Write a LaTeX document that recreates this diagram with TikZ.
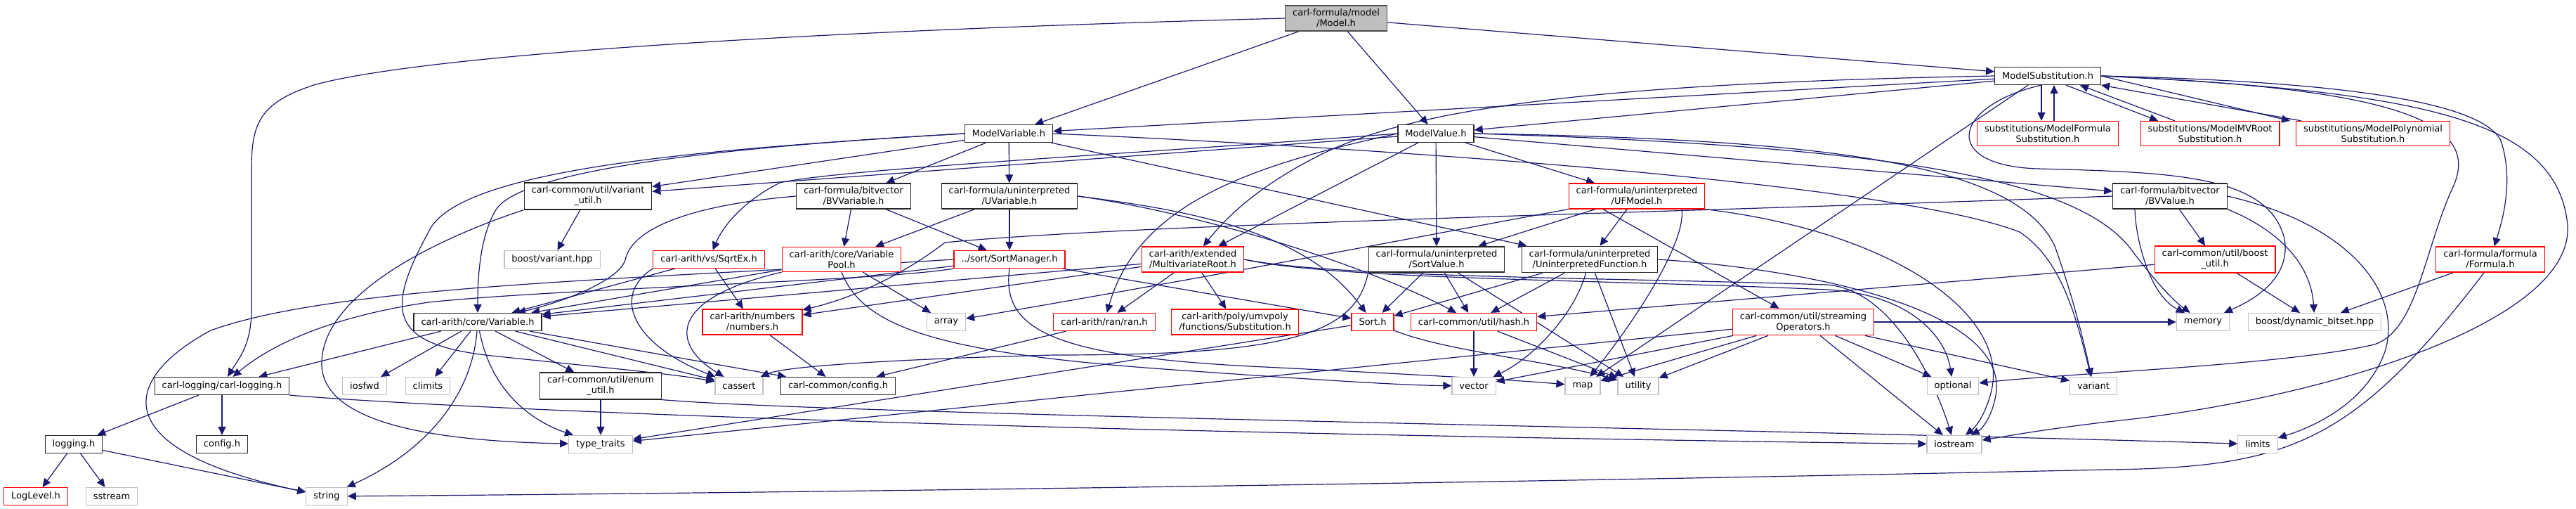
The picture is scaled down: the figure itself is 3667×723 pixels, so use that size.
\documentclass[tikz,border=0pt]{standalone}
\usepackage{fontspec}
\newfontfamily\graphfont{DejaVu Sans}
\usetikzlibrary{arrows.meta}
\pgfdeclarelayer{background}
\pgfsetlayers{background,main}
\definecolor{edgeblue}{HTML}{191970}
\definecolor{sysgray}{HTML}{BFBFBF}

\begin{document}
\begin{tikzpicture}[
  x=0.5pt, y=-0.5pt,
  file/.style={draw=black!85, fill=white, line width=0.6pt,
               font=\graphfont\fontsize{6.5}{7.5}\selectfont, align=center,
               inner xsep=5.25pt, inner ysep=2.5pt, minimum height=12.5pt,
               text=black},
  root/.style={file, fill=sysgray, draw=black!70},
  trunc/.style={file, draw=red},
  sys/.style={file, draw=sysgray},
  inc/.style={-{Triangle[length=6pt,width=5.5pt]}, edgeblue, line width=0.6pt},
]
  \useasboundingbox (0,0) rectangle (3667,723);

  %% the file and the model headers
  \node[root] (model) at (1902,26) {carl-formula/model\\/Model.h};
  \node[file] (msub) at (2915,108) {ModelSubstitution.h};
  \node[file] (mvar) at (1436,190) {ModelVariable.h};
  \node[file] (mval) at (2044,190) {ModelValue.h};
  \node[trunc] (subform) at (2915,190) {substitutions/ModelFormula\\Substitution.h};
  \node[trunc] (submv) at (3146,190) {substitutions/ModelMVRoot\\Substitution.h};
  \node[trunc] (subpoly) at (3378,190) {substitutions/ModelPolynomial\\Substitution.h};

  %% bitvector / uninterpreted level
  \node[file] (varutil) at (837,279) {carl-common/util/variant\\\_util.h};
  \node[file] (bvvar) at (1215,279) {carl-formula/bitvector\\/BVVariable.h};
  \node[file] (uvar) at (1437,279) {carl-formula/uninterpreted\\/UVariable.h};
  \node[trunc] (ufmodel) at (2330,279) {carl-formula/uninterpreted\\/UFModel.h};
  \node[file] (bvval) at (3089,279) {carl-formula/bitvector\\/BVValue.h};

  %% arith level
  \node[sys] (boostvar) at (786,369) {boost/variant.hpp};
  \node[trunc] (sqrtex) at (1009,369) {carl-arith/vs/SqrtEx.h};
  \node[trunc] (varpool) at (1198,369) {carl-arith/core/Variable\\Pool.h};
  \node[trunc] (sortmgr) at (1437,369) {../sort/SortManager.h};
  \node[trunc] (mvroot) at (1698,369) {carl-arith/extended\\/MultivariateRoot.h};
  \node[file] (sortval) at (2045,369) {carl-formula/uninterpreted\\/SortValue.h};
  \node[file] (uifunc) at (2263,369) {carl-formula/uninterpreted\\/UninterpretedFunction.h};
  \node[trunc] (boostutil) at (3153,369) {carl-common/util/boost\\\_util.h};
  \node[trunc] (formula) at (3545,369) {carl-formula/formula\\/Formula.h};

  \node[file] (variable) at (680,458) {carl-arith/core/Variable.h};
  \node[trunc] (numbers) at (1071,458) {carl-arith/numbers\\/numbers.h};
  \node[sys] (array) at (1347,458) {array};
  \node[trunc] (ran) at (1572,458) {carl-arith/ran/ran.h};
  \node[trunc] (subst) at (1758,458) {carl-arith/poly/umvpoly\\/functions/Substitution.h};
  \node[trunc] (sort) at (1954,458) {Sort.h};
  \node[trunc] (hash) at (2098,458) {carl-common/util/hash.h};
  \node[trunc] (streamops) at (2567,458) {carl-common/util/streaming\\Operators.h};
  \node[sys] (memory) at (3136,458) {memory};
  \node[sys] (dynbitset) at (3295,458) {boost/dynamic\_bitset.hpp};

  %% common / std level
  \node[file] (logging) at (316,549) {carl-logging/carl-logging.h};
  \node[sys] (iosfwd) at (519,549) {iosfwd};
  \node[sys] (climits) at (609,549) {climits};
  \node[file] (enumutil) at (855,549) {carl-common/util/enum\\\_util.h};
  \node[sys] (cassert) at (1052,549) {cassert};
  \node[file] (commonconfig) at (1193,549) {carl-common/config.h};
  \node[sys] (vector) at (2098,549) {vector};
  \node[sys] (map) at (2253,549) {map};
  \node[sys] (utility) at (2332,549) {utility};
  \node[sys] (optional) at (2780,549) {optional};
  \node[sys] (variant) at (2980,549) {variant};

  \node[file] (logh) at (105,632) {logging.h};
  \node[file] (configh) at (316,632) {config.h};
  \node[sys] (typetraits) at (855,632) {type\_traits};
  \node[sys] (iostream) at (2782,632) {iostream};
  \node[sys] (limits) at (3214,632) {limits};

  \node[trunc] (loglevel) at (51,706) {LogLevel.h};
  \node[sys] (sstream) at (159,706) {sstream};
  \node[sys] (string) at (465,706) {string};

  \begin{pgfonlayer}{background}
  %% Model.h
  \draw[inc] (model.west) .. controls (1100,45) and (600,80) .. (450,120)
             .. controls (370,145) and (358,175) .. (358,240)
             -- (358,440) .. controls (358,490) and (340,510) .. (logging);
  \draw[inc] (model) -- (mvar);
  \draw[inc] (model) -- (mval);
  \draw[inc] (model) -- (msub);

  %% ModelSubstitution.h
  \draw[inc] (msub) -- (mvar);
  \draw[inc] (msub) -- (mval);
  \draw[inc] (msub.west) .. controls (2300,118) and (2020,150) .. (1880,220)
             .. controls (1790,265) and (1745,310) .. (mvroot);
  \draw[inc] ([xshift=-4.5pt]msub.south) -- ([xshift=-4.5pt]subform.north);
  \draw[inc] ([xshift=4.5pt]subform.north) -- ([xshift=4.5pt]msub.south);
  \draw[inc] ([xshift=13pt]msub.south) -- ([xshift=-37pt]submv.north);
  \draw[inc] ([xshift=-25pt]submv.north) -- ([xshift=23pt]msub.south);
  \draw[inc] (msub.east) -- ([xshift=-59pt]subpoly.north);
  \draw[inc] ([xshift=-51pt]subpoly.north) -- (msub.south east);
  \draw[inc] (msub.east) .. controls (3300,115) and (3530,140) .. (3560,200)
             .. controls (3580,260) and (3560,320) .. (formula);
  \draw[inc] (msub.235) .. controls (2780,150) and (2760,235) .. (2900,240)
             .. controls (3100,245) and (3230,250) .. (3252,340)
             .. controls (3262,400) and (3200,430) .. (memory);
  \draw[inc] (msub.east) .. controls (3400,125) and (3540,170) .. (3490,270)
             .. controls (3450,360) and (3440,470) .. (3380,490)
             .. controls (3250,520) and (2950,530) .. (optional);
  \draw[inc] (msub.east) .. controls (3450,130) and (3640,170) .. (3655,320)
             .. controls (3665,460) and (3300,570) .. (3000,600)
             .. controls (2900,612) and (2860,620) .. (iostream);
  \draw[inc] ([xshift=-14pt]msub.south) -- (map);

  %% ModelVariable.h
  \draw[inc] (mvar) -- (varutil);
  \draw[inc] (mvar) -- (bvvar);
  \draw[inc] (mvar) -- (uvar);
  \draw[inc] (mvar) -- (uifunc);
  \draw[inc] (mvar.west) .. controls (1100,205) and (740,235) .. (705,300)
             .. controls (682,340) and (680,400) .. (variable);
  \draw[inc] (mvar.west) .. controls (1000,212) and (650,240) .. (610,330)
             .. controls (550,440) and (550,490) .. (700,506)
             .. controls (850,522) and (960,532) .. (cassert);
  \draw[inc] (mvar.east) .. controls (2000,212) and (2700,262) .. (2875,330)
             .. controls (2935,370) and (2955,450) .. (variant);

  %% ModelValue.h
  \draw[inc] (mval) -- (varutil);
  \draw[inc] (mval.west) .. controls (1600,220) and (1200,240) .. (1110,260)
             .. controls (1060,285) and (1030,320) .. (sqrtex);
  \draw[inc] (mval.west) .. controls (1780,235) and (1620,290) .. (ran);
  \draw[inc] (mval) -- (mvroot);
  \draw[inc] (mval) -- (sortval);
  \draw[inc] (mval) -- (ufmodel);
  \draw[inc] (mval) -- (bvval);
  \draw[inc] (mval.east) .. controls (2600,198) and (2870,232) .. (2925,350)
             .. controls (2950,420) and (2965,480) .. (variant);
  \draw[inc] (mval.east) .. controls (2700,208) and (2950,255) .. (3030,350)
             .. controls (3060,390) and (3090,425) .. (memory);

  %% second level
  \draw[inc] (varutil) -- (boostvar);
  \draw[inc] (varutil.south west) .. controls (620,340) and (455,420) .. (458,520)
             .. controls (462,610) and (650,628) .. (typetraits);
  \draw[inc] (bvvar) -- (varpool);
  \draw[inc] (bvvar) -- (sortmgr);
  \draw[inc] (bvvar.west) .. controls (1000,290) and (900,320) .. (890,370)
             .. controls (880,400) and (800,430) .. (variable);
  \draw[inc] (uvar) -- (varpool);
  \draw[inc] (uvar) -- (sortmgr);
  \draw[inc] (uvar.east) .. controls (1700,300) and (1860,330) .. (sort);
  \draw[inc] (uvar.east) .. controls (1720,305) and (1950,380) .. (hash);
  \draw[inc] (ufmodel) -- (sortval);
  \draw[inc] (ufmodel) -- (uifunc);
  \draw[inc] ([xshift=32pt]ufmodel.south) .. controls (2400,340) and (2340,440) .. (map);
  \draw[inc] (ufmodel.south east) .. controls (2700,330) and (2860,450) .. (2835,555)
             .. controls (2828,585) and (2815,605) .. (iostream);
  \draw[inc] (ufmodel.south west) .. controls (2000,340) and (1800,380) .. (array);
  \draw[inc] ([xshift=-24pt]ufmodel.south) -- (streamops);
  \draw[inc] (bvval) -- (boostutil);
  \draw[inc] (bvval.south east) .. controls (3250,330) and (3290,380) .. (dynbitset);
  \draw[inc] ([xshift=-25pt]bvval.south) .. controls (3040,340) and (3060,420) .. (memory);
  \draw[inc] (bvval.east) .. controls (3350,320) and (3420,420) .. (3395,500)
             .. controls (3370,570) and (3300,605) .. (limits);
  \draw[inc] (bvval.west) .. controls (2400,302) and (1620,318) .. (1345,345)
             .. controls (1300,380) and (1230,420) .. (numbers);

  %% arith level
  \draw[inc] (sqrtex) -- (variable);
  \draw[inc] (sqrtex) -- (numbers);
  \draw[inc] (sqrtex.south west) .. controls (870,420) and (900,490) .. (cassert);
  \draw[inc] (varpool) -- (variable);
  \draw[inc] (varpool) -- (array);
  \draw[inc] (varpool.south west) .. controls (950,425) and (955,490) .. (cassert);
  \draw[inc] (varpool.south) .. controls (1230,470) and (1350,505) .. (1700,528)
             .. controls (1900,542) and (2000,548) .. (vector);
  \draw[inc] (sortmgr) -- (variable);
  \draw[inc] (sortmgr) -- (sort);
  \draw[inc] (sortmgr.south) .. controls (1425,470) and (1500,508) .. (1800,522)
             .. controls (2000,532) and (2150,540) .. (map);
  \draw[inc] (sortmgr.south west) .. controls (1250,400) and (800,410) .. (610,430)
             .. controls (460,452) and (380,495) .. (logging);
  \draw[inc] (sortmgr.west) .. controls (900,398) and (480,405) .. (300,470)
             .. controls (170,540) and (150,640) .. (string);
  \draw[inc] (mvroot) -- (variable);
  \draw[inc] (mvroot) -- (ran);
  \draw[inc] (mvroot) -- (subst);
  \draw[inc] (mvroot) -- (numbers);
  \draw[inc] (mvroot.east) .. controls (1900,395) and (2300,395) .. (2600,405)
             .. controls (2700,412) and (2760,560) .. (iostream);
  \draw[inc] (mvroot.east) .. controls (1900,398) and (2300,398) .. (2600,412)
             .. controls (2720,418) and (2770,480) .. (optional);
  \draw[inc] (sortval) -- (sort);
  \draw[inc] (sortval) -- (hash);
  \draw[inc] (sortval) -- (utility);
  \draw[inc] (sortval.south west) .. controls (1930,480) and (1820,505) .. (1500,505)
             .. controls (1300,510) and (1120,520) .. (cassert);
  \draw[inc] (uifunc) -- (sort);
  \draw[inc] (uifunc) -- (hash);
  \draw[inc] (uifunc) .. controls (2240,450) and (2180,510) .. (vector);
  \draw[inc] (uifunc) -- (utility);
  \draw[inc] (uifunc.east) .. controls (2600,385) and (2850,445) .. (2842,555)
             .. controls (2838,590) and (2822,610) .. (iostream);
  \draw[inc] (boostutil) -- (dynbitset);
  \draw[inc] (boostutil) -- (hash);
  \draw[inc] (formula) -- (dynbitset);
  \draw[inc] (formula.-115) .. controls (3350,630) and (3260,665) .. (3000,668)
             .. controls (2000,690) and (1000,702) .. (string);

  %% Variable.h and the common headers
  \draw[inc] (variable) -- (logging);
  \draw[inc] (variable) -- (iosfwd);
  \draw[inc] (variable) -- (climits);
  \draw[inc] (variable) -- (enumutil);
  \draw[inc] (variable) -- (cassert);
  \draw[inc] (variable) -- (commonconfig);
  \draw[inc] (variable) .. controls (700,560) and (760,600) .. (typetraits);
  \draw[inc] (variable) .. controls (672,560) and (610,640) .. (string);
  \draw[inc] (numbers) -- (commonconfig);
  \draw[inc] (ran) -- (commonconfig);
  \draw[inc] (sort) -- (typetraits);
  \draw[inc] (sort) .. controls (2060,500) and (2200,512) .. (utility);
  \draw[inc] (hash) -- (vector);
  \draw[inc] (hash) -- (utility);
  \draw[inc] (streamops) -- (optional);
  \draw[inc] (streamops) -- (variant);
  \draw[inc] (streamops) -- (iostream);
  \draw[inc] (streamops) -- (map);
  \draw[inc] (streamops) -- (vector);
  \draw[inc] (streamops) -- (utility);
  \draw[inc] (streamops) -- (typetraits);
  \draw[inc] (streamops) -- (memory);

  %% logging
  \draw[inc] (logging) -- (logh);
  \draw[inc] (logging) -- (configh);
  \draw[inc] (logging.south east) .. controls (600,578) and (1300,612) .. (iostream);
  \draw[inc] (logh) -- (loglevel);
  \draw[inc] (logh) -- (sstream);
  \draw[inc] (logh) -- (string);
  \draw[inc] (enumutil) -- (typetraits);
  \draw[inc] (enumutil.south east) .. controls (1200,590) and (2500,610) .. (limits);
  \end{pgfonlayer}

\end{tikzpicture}
\end{document}
